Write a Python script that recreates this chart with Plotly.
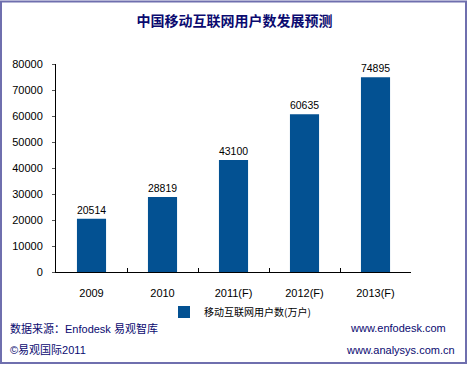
import plotly.graph_objects as go

categories = ["2009", "2010", "2011(F)", "2012(F)", "2013(F)"]
users = [20514, 28819, 43100, 60635, 74895]
y_ticks = [0, 10000, 20000, 30000, 40000, 50000, 60000, 70000, 80000]

W, H = 469, 365
L, R, T, B = 56, 411, 64, 272

def px(x):
    return (x - L) / (R - L)

def py(y):
    return (B - y) / (B - T)

fig = go.Figure()
fig.add_trace(go.Bar(
    x=categories, y=users, name="移动互联网用户数(万户)",
    marker=dict(color="#035192", line=dict(width=0)),
    width=0.41,
    text=[str(v) for v in users], textposition="outside",
    textfont=dict(family="Liberation Sans, Arial", size=11, color="#000000"),
    cliponaxis=False,
))

fig.update_layout(
    width=W, height=H,
    margin=dict(l=L, r=W - R, t=T, b=H - B, pad=0),
    paper_bgcolor="#ffffff", plot_bgcolor="#ffffff",
    showlegend=True,
    legend=dict(orientation="h", x=px(240), xanchor="center", y=py(312), yanchor="middle",
                font=dict(family="Noto Sans CJK SC", size=10, color="#000000"),
                itemwidth=30, bgcolor="rgba(0,0,0,0)"),
    title=dict(text="<b>中国移动互联网用户数发展预测</b>", x=0.5, xanchor="center",
               y=1 - 21 / H, yanchor="middle",
               font=dict(family="Noto Sans CJK SC", size=14, color="#0a0a70")),
    xaxis=dict(type="category", showline=True, linecolor="#000000", linewidth=1,
               ticks="inside", tickson="boundaries", ticklen=4, tickcolor="#000000",
               tickfont=dict(family="Liberation Sans, Arial", size=11, color="#000000"),
               ticklabelstandoff=11,
               showgrid=False, zeroline=False),
    yaxis=dict(range=[0, 80000], tickvals=y_ticks, ticktext=[str(v) for v in y_ticks],
               showline=True, linecolor="#000000", linewidth=1,
               ticks="outside", ticklen=3, tickcolor="#555555",
               tickfont=dict(family="Liberation Sans, Arial", size=11, color="#000000"),
               ticklabelstandoff=7,
               showgrid=False, zeroline=False),
    bargap=0.59,
)

fig.update_xaxes(automargin=False)
fig.update_yaxes(automargin=False)

# frame border
fig.add_shape(type="rect", xref="paper", yref="paper",
              x0=px(1), x1=px(466), y0=py(363), y1=py(1.5),
              line=dict(color="#6f6fae", width=2), fillcolor="rgba(0,0,0,0)", layer="above")

foot_font = dict(family="Liberation Sans, Noto Sans CJK SC", size=11, color="#0a0a70")
annots = [
    dict(text="数据来源：Enfodesk 易观智库", x=px(8), y=py(328), xanchor="left"),
    dict(text="©易观国际2011", x=px(8), y=py(350), xanchor="left"),
    dict(text="www.enfodesk.com", x=px(448), y=py(328), xanchor="right"),
    dict(text="www.analysys.com.cn", x=px(457), y=py(350), xanchor="right"),
]
for a in annots:
    fig.add_annotation(xref="paper", yref="paper", showarrow=False, yanchor="middle",
                       font=foot_font, **a)

fig.write_html("out.html", config={"displayModeBar": False},
               post_script="document.body.style.margin='0';document.body.style.overflow='hidden';")
